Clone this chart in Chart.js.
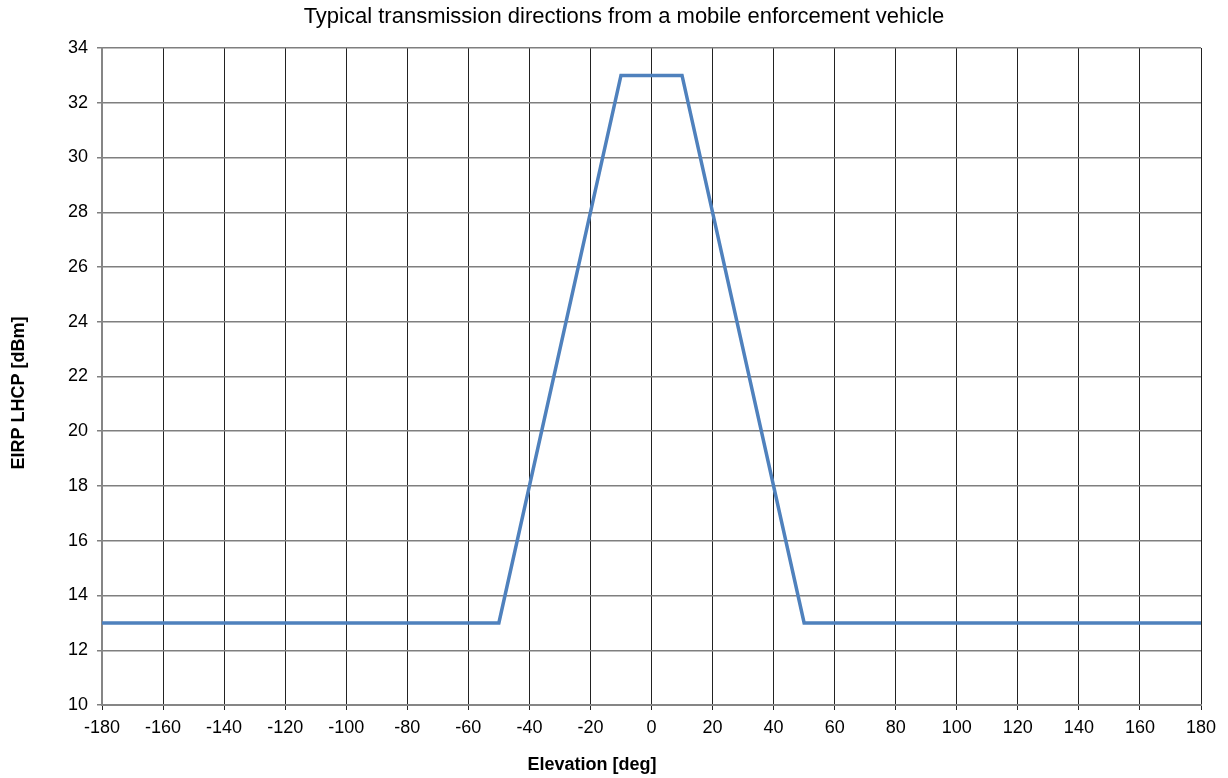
<!DOCTYPE html>
<html>
<head>
<meta charset="utf-8">
<script src="https://cdn.jsdelivr.net/npm/chart.js@4"></script>
<style>
  html, body { margin: 0; padding: 0; background: #fff; }
  #wrap { width: 1228px; height: 778px; }
</style>
</head>
<body>
<div id="wrap"><canvas id="eirpChart" width="1228" height="778"></canvas></div>
<script>
const elevation = [-180, -50, -10, 10, 50, 180];
const eirp = [13, 13, 33, 33, 13, 13];
const xTicks = [-180, -160, -140, -120, -100, -80, -60, -40, -20, 0, 20, 40, 60, 80, 100, 120, 140, 160, 180];
const yTicks = [10, 12, 14, 16, 18, 20, 22, 24, 26, 28, 30, 32, 34];
const chartTitle = 'Typical transmission directions from a mobile enforcement vehicle';
const xTitle = 'Elevation [deg]';
const yTitle = 'EIRP LHCP [dBm]';

const points = elevation.map((x, i) => ({ x: x, y: eirp[i] }));
const font = 'Liberation Sans, Arial, sans-serif';

// titles sit off-centre in the original, so draw them by hand
const titlesPlugin = {
    id: 'titles',
    afterDraw(chart) {
        const c = chart.ctx;
        c.save();
        c.fillStyle = '#000';
        c.textAlign = 'center';
        c.textBaseline = 'middle';
        c.font = '22px ' + font;
        c.fillText(chartTitle, 624, 17);
        c.font = 'bold 18px ' + font;
        c.fillText(xTitle, 592, 765);
        c.translate(19, 393);
        c.rotate(-Math.PI / 2);
        c.fillText(yTitle, 0, 0);
        c.restore();
    }
};

new Chart(document.getElementById('eirpChart').getContext('2d'), {
    type: 'scatter',
    data: {
        datasets: [{
            data: points,
            showLine: true,
            borderColor: '#4F81BD',
            borderWidth: 3.5,
            pointRadius: 0,
            fill: false
        }]
    },
    options: {
        responsive: false,
        animation: false,
        layout: { padding: { left: 0, right: 27, top: 48, bottom: 0 } },
        scales: {
            x: {
                type: 'linear',
                min: -180,
                max: 180,
                afterBuildTicks: scale => { scale.ticks = xTicks.map(v => ({ value: v })); },
                afterFit: scale => { scale.height = 73; },
                ticks: { color: '#000', font: { family: font, size: 18 }, padding: 7, maxRotation: 0 },
                grid: { color: '#222', lineWidth: 1, tickLength: 5 },
                border: { color: '#868686', width: 2 }
            },
            y: {
                min: 10,
                max: 34,
                afterBuildTicks: scale => { scale.ticks = yTicks.map(v => ({ value: v })); },
                afterFit: scale => { scale.width = 102; },
                ticks: { color: '#000', font: { family: font, size: 18 }, padding: 9 },
                grid: { color: '#7f7f7f', lineWidth: 1.5, tickLength: 5 },
                border: { color: '#868686', width: 2 }
            }
        },
        plugins: {
            legend: { display: false },
            tooltip: { enabled: false },
            title: { display: false }
        }
    },
    plugins: [titlesPlugin]
});
</script>
</body>
</html>
